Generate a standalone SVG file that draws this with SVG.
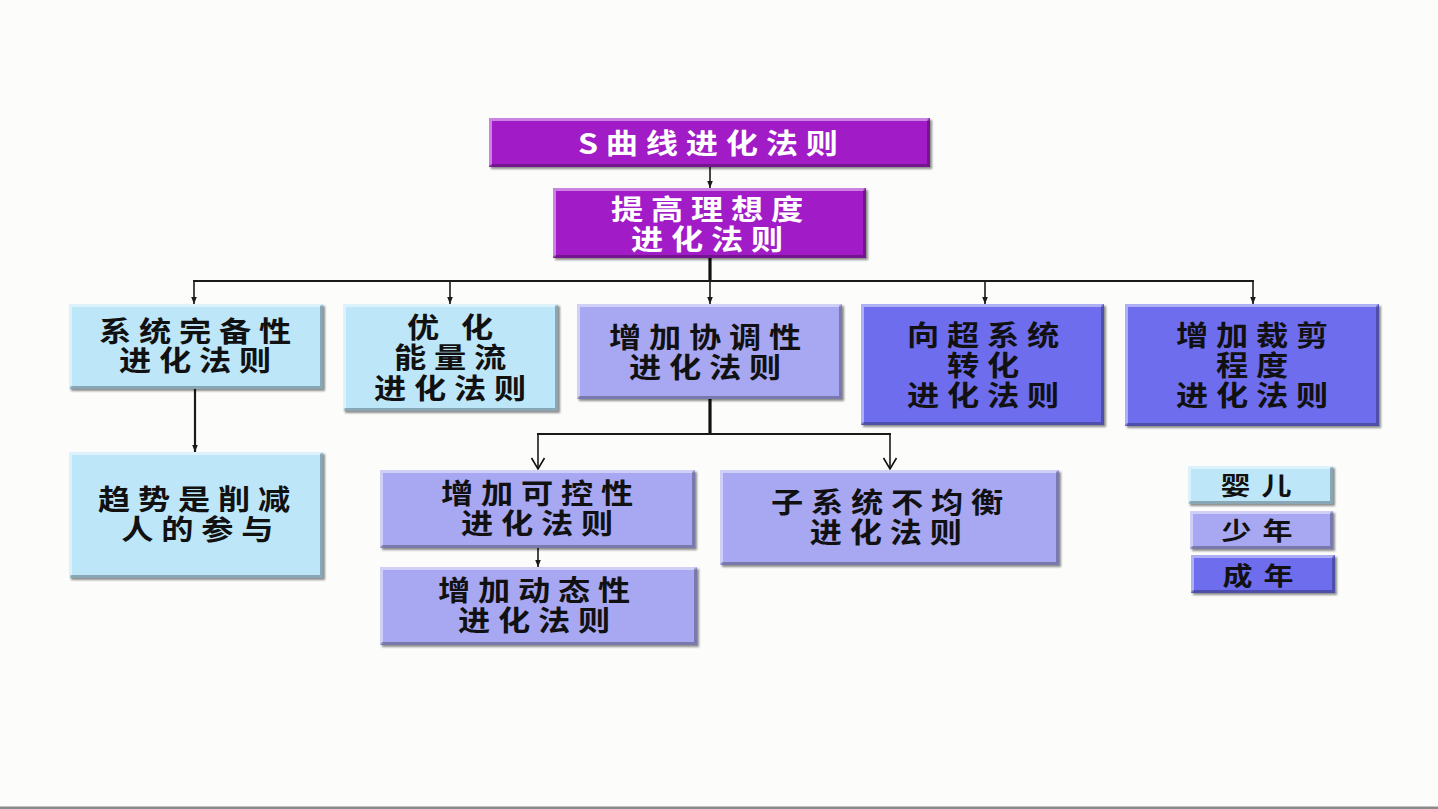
<svg xmlns="http://www.w3.org/2000/svg" width="1438" height="809" viewBox="0 0 1438 809">
<style>
.bg{fill:#fcfdfb}
.box{filter:url(#sh)}
.mag{fill:#a11fc6}
.cy{fill:#bde6f8}
.lav{fill:#a8a8f2}
.blu{fill:#6d6dee}
.hl{fill:none;stroke:#ffffff;stroke-opacity:.45;stroke-width:3}
.sd{fill:none;stroke:#000000;stroke-opacity:.28;stroke-width:3}
text{font-family:"Noto Sans CJK SC","Noto Sans",sans-serif;font-weight:700;font-size:28px;letter-spacing:6.8px;text-anchor:middle;fill:#111}
.w{fill:#ffffff}
.lg{font-size:25px;letter-spacing:9px}
.c{stroke:#1a1a1a;stroke-width:1.6;fill:none}
.c2{stroke:#1a1a1a;stroke-width:2.2;fill:none}
.c3{stroke:#111;stroke-width:3.2;fill:none}
</style>
<defs>
<filter id="sh" x="-5%" y="-10%" width="115%" height="130%">
<feDropShadow dx="2" dy="2" stdDeviation="1.2" flood-color="#000" flood-opacity="0.45"/>
</filter>
<marker id="a" viewBox="0 0 8 8" refX="8" refY="4" markerWidth="7" markerHeight="7" markerUnits="userSpaceOnUse" orient="auto">
<path d="M0,0.8 L8,4 L0,7.2 z" fill="#1a1a1a"/>
</marker>
<marker id="v" viewBox="0 0 12 14" refX="11" refY="7" markerWidth="12" markerHeight="14" markerUnits="userSpaceOnUse" orient="auto" overflow="visible">
<path d="M0,0.5 L11,7 L0,13.5" fill="none" stroke="#111" stroke-width="1.6"/>
</marker>
</defs>
<rect class="bg" x="0" y="0" width="1438" height="809"/>
<rect x="0" y="806.5" width="1438" height="2.5" fill="#8a8a8a"/>

<g id="connectors">
<line class="c" x1="710" y1="167" x2="710" y2="188" marker-end="url(#a)"/>
<line class="c3" x1="710" y1="258" x2="710" y2="282"/>
<line class="c2" x1="193" y1="281" x2="1254" y2="281"/>
<line class="c" x1="194" y1="281" x2="194" y2="304" marker-end="url(#a)"/>
<line class="c" x1="450" y1="281" x2="450" y2="304" marker-end="url(#a)"/>
<line class="c" x1="710" y1="281" x2="710" y2="304" marker-end="url(#a)"/>
<line class="c" x1="985" y1="281" x2="985" y2="304" marker-end="url(#a)"/>
<line class="c" x1="1253" y1="281" x2="1253" y2="304" marker-end="url(#a)"/>
<line class="c2" x1="195" y1="389" x2="195" y2="452" marker-end="url(#a)"/>
<line class="c3" x1="710" y1="399" x2="710" y2="435"/>
<line class="c2" x1="537" y1="434" x2="891" y2="434"/>
<line class="c" x1="538" y1="434" x2="538" y2="469" marker-end="url(#v)"/>
<line class="c" x1="890" y1="434" x2="890" y2="469" marker-end="url(#v)"/>
<line class="c" x1="538" y1="548" x2="538" y2="567" marker-end="url(#a)"/>
</g>

<g id="n-scurve">
<rect class="box mag" x="489" y="118" width="441" height="49"/>
<path class="hl" d="M490.5,165.5 V119.5 H928.5"/>
<path class="sd" d="M490.5,165.5 H928.5 V119.5"/>
<g transform="translate(708 0) scale(1.15 1)"><text class="w" x="3.4" y="154">S曲线进化法则</text></g>
</g>

<g id="n-ideal">
<rect class="box mag" x="553" y="188" width="313" height="70"/>
<path class="hl" d="M554.5,256.5 V189.5 H864.5"/>
<path class="sd" d="M554.5,256.5 H864.5 V189.5"/>
<g transform="translate(707 0) scale(1.15 1)"><text class="w"><tspan x="3.4" y="220">提高理想度</tspan><tspan x="3.4" y="250">进化法则</tspan></text></g>
</g>

<g id="n-complete">
<rect class="box cy" x="69" y="304" width="254" height="85"/>
<path class="hl" d="M70.5,387.5 V305.5 H321.5"/>
<path class="sd" d="M70.5,387.5 H321.5 V305.5"/>
<g transform="translate(195 0) scale(1.15 1)"><text><tspan x="3.4" y="342">系统完备性</tspan><tspan x="3.4" y="371">进化法则</tspan></text></g>
</g>

<g id="n-energy">
<rect class="box cy" x="343" y="304" width="215" height="107"/>
<path class="hl" d="M344.5,409.5 V305.5 H556.5"/>
<path class="sd" d="M344.5,409.5 H556.5 V305.5"/>
<g transform="translate(450 0) scale(1.15 1)"><text><tspan x="9.5" y="338" style="letter-spacing:19px">优化</tspan><tspan x="3.4" y="368">能量流</tspan><tspan x="3.4" y="399">进化法则</tspan></text></g>
</g>

<g id="n-coord">
<rect class="box lav" x="577" y="304" width="265" height="95"/>
<path class="hl" d="M578.5,397.5 V305.5 H840.5"/>
<path class="sd" d="M578.5,397.5 H840.5 V305.5"/>
<g transform="translate(705 0) scale(1.15 1)"><text><tspan x="3.4" y="348">增加协调性</tspan><tspan x="3.4" y="378">进化法则</tspan></text></g>
</g>

<g id="n-super">
<rect class="box blu" x="861" y="304" width="243" height="121"/>
<path class="hl" d="M862.5,423.5 V305.5 H1102.5"/>
<path class="sd" d="M862.5,423.5 H1102.5 V305.5"/>
<g transform="translate(983 0) scale(1.15 1)"><text><tspan x="3.4" y="346">向超系统</tspan><tspan x="3.4" y="376">转化</tspan><tspan x="3.4" y="406">进化法则</tspan></text></g>
</g>

<g id="n-trim">
<rect class="box blu" x="1125" y="304" width="254" height="122"/>
<path class="hl" d="M1126.5,424.5 V305.5 H1377.5"/>
<path class="sd" d="M1126.5,424.5 H1377.5 V305.5"/>
<g transform="translate(1252 0) scale(1.15 1)"><text><tspan x="3.4" y="346">增加裁剪</tspan><tspan x="3.4" y="376">程度</tspan><tspan x="3.4" y="406">进化法则</tspan></text></g>
</g>

<g id="n-trend">
<rect class="box cy" x="69" y="452" width="254" height="126"/>
<path class="hl" d="M70.5,576.5 V453.5 H321.5"/>
<path class="sd" d="M70.5,576.5 H321.5 V453.5"/>
<g transform="translate(194 0) scale(1.15 1)"><text><tspan x="3.4" y="510">趋势是削减</tspan><tspan x="6.4" y="540">人的参与</tspan></text></g>
</g>

<g id="n-control">
<rect class="box lav" x="380" y="470" width="315" height="78"/>
<path class="hl" d="M381.5,546.5 V471.5 H693.5"/>
<path class="sd" d="M381.5,546.5 H693.5 V471.5"/>
<g transform="translate(537 0) scale(1.15 1)"><text><tspan x="3.4" y="504">增加可控性</tspan><tspan x="3.4" y="534">进化法则</tspan></text></g>
</g>

<g id="n-uneven">
<rect class="box lav" x="720" y="470" width="339" height="95"/>
<path class="hl" d="M721.5,563.5 V471.5 H1057.5"/>
<path class="sd" d="M721.5,563.5 H1057.5 V471.5"/>
<g transform="translate(887 0) scale(1.15 1)"><text><tspan x="3.4" y="513">子系统不均衡</tspan><tspan x="2.4" y="543">进化法则</tspan></text></g>
</g>

<g id="n-dynamic">
<rect class="box lav" x="380" y="567" width="317" height="78"/>
<path class="hl" d="M381.5,643.5 V568.5 H695.5"/>
<path class="sd" d="M381.5,643.5 H695.5 V568.5"/>
<g transform="translate(534 0) scale(1.15 1)"><text><tspan x="3.4" y="601">增加动态性</tspan><tspan x="3.4" y="631">进化法则</tspan></text></g>
</g>

<g id="legend-infant">
<rect class="box cy" x="1188" y="466" width="145" height="38"/>
<path class="hl" d="M1189.5,502.5 V467.5 H1331.5"/>
<path class="sd" d="M1189.5,502.5 H1331.5 V467.5"/>
<g transform="translate(1256 0) scale(1.2 1)"><text class="lg" x="4.5" y="495">婴儿</text></g>
</g>

<g id="legend-youth">
<rect class="box lav" x="1190" y="511" width="143" height="38"/>
<path class="hl" d="M1191.5,547.5 V512.5 H1331.5"/>
<path class="sd" d="M1191.5,547.5 H1331.5 V512.5"/>
<g transform="translate(1257 0) scale(1.2 1)"><text class="lg" x="4.5" y="540">少年</text></g>
</g>

<g id="legend-adult">
<rect class="box blu" x="1191" y="555" width="144" height="38"/>
<path class="hl" d="M1192.5,591.5 V556.5 H1333.5"/>
<path class="sd" d="M1192.5,591.5 H1333.5 V556.5"/>
<g transform="translate(1258 0) scale(1.2 1)"><text class="lg" x="4.5" y="585">成年</text></g>
</g>
</svg>
